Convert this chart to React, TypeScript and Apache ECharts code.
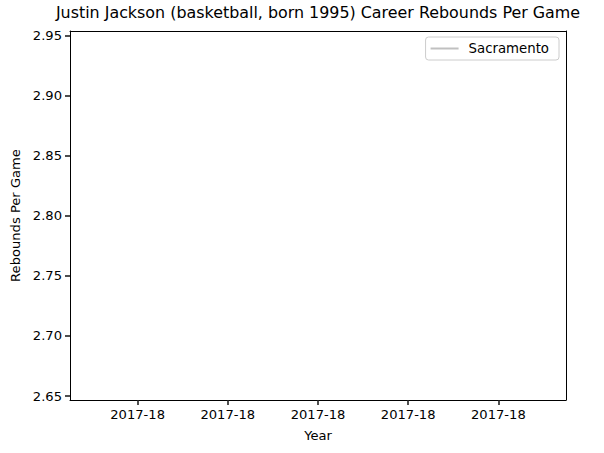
import React, { useEffect, useRef } from "react";
import * as echarts from "echarts";

const categories: string[] = ["2017-18"];
const reboundsPerGame: number[] = [2.8];
const seriesName = "Sacramento";
const xTickPositions: number[] = [-0.04, -0.02, 0, 0.02, 0.04];
const yTickValues: number[] = [2.65, 2.7, 2.75, 2.8, 2.85, 2.9, 2.95];
const titleText = "Justin Jackson (basketball, born 1995) Career Rebounds Per Game";

const FONT = "DejaVu Sans";
const X_MIN = -0.055;
const X_MAX = 0.055;
const Y_MIN = 2.6467;
const Y_MAX = 2.9536;

export default function App() {
  const ref = useRef<HTMLDivElement>(null);
  useEffect(() => {
    if (!ref.current) return;
    const chart = echarts.init(ref.current, null, { renderer: "svg" });
    const data = reboundsPerGame.map((v, i) => [i, v]);
    const spine = () => ({ show: true, onZero: false, lineStyle: { color: "#000", width: 1 } });
    chart.setOption({
      animation: false,
      backgroundColor: "#ffffff",
      textStyle: { fontFamily: FONT },
      graphic: [
        {
          type: "text",
          x: 318,
          y: 4,
          style: {
            text: titleText,
            fontFamily: FONT,
            fontSize: 15.9,
            fill: "#000",
            textAlign: "center",
            textVerticalAlign: "top",
          },
        },
      ],
      grid: {
        left: 70,
        right: 38,
        top: 31,
        bottom: 53,
      },
      legend: {
        data: [seriesName],
        right: 45,
        top: 37,
        padding: [5, 10, 5, 5],
        borderColor: "#cccccc",
        borderWidth: 1,
        borderRadius: 3,
        backgroundColor: "rgba(255,255,255,0.8)",
        icon: "rect",
        itemWidth: 28,
        itemHeight: 2,
        textStyle: { fontFamily: FONT, fontSize: 13.3, color: "#000", padding: [0, 0, 0, 5] },
      },
      xAxis: [
        {
          type: "value",
          position: "bottom",
          min: X_MIN,
          max: X_MAX,
          name: "Year",
          nameLocation: "middle",
          nameGap: 29,
          nameTextStyle: { fontFamily: FONT, fontSize: 13.1, color: "#000" },
          axisLine: spine(),
          splitLine: { show: false },
          axisTick: {
            show: true,
            length: 5,
            customValues: xTickPositions,
            lineStyle: { color: "#222", width: 1.6 },
          },
          axisLabel: {
            customValues: xTickPositions,
            margin: 8,
            fontFamily: FONT,
            fontSize: 13.1,
            color: "#000",
            formatter: () => categories[0],
          },
        },
        {
          type: "value",
          position: "top",
          min: X_MIN,
          max: X_MAX,
          axisLine: spine(),
          splitLine: { show: false },
          axisTick: { show: false },
          axisLabel: { show: false },
        },
      ],
      yAxis: [
        {
          type: "value",
          position: "left",
          min: Y_MIN,
          max: Y_MAX,
          name: "Rebounds Per Game",
          nameLocation: "middle",
          nameGap: 46,
          nameTextStyle: { fontFamily: FONT, fontSize: 13.1, color: "#000" },
          axisLine: spine(),
          splitLine: { show: false },
          axisTick: {
            show: true,
            length: 5,
            customValues: yTickValues,
            lineStyle: { color: "#222", width: 1.6 },
          },
          axisLabel: {
            customValues: yTickValues,
            margin: 8,
            fontFamily: FONT,
            fontSize: 13.1,
            color: "#000",
            formatter: (v: number) => v.toFixed(2),
          },
        },
        {
          type: "value",
          position: "right",
          min: Y_MIN,
          max: Y_MAX,
          axisLine: spine(),
          splitLine: { show: false },
          axisTick: { show: false },
          axisLabel: { show: false },
        },
      ],
      series: [
        {
          name: seriesName,
          type: "line",
          data,
          showSymbol: false,
          symbol: "none",
          lineStyle: { color: "#c0c0c0", width: 2 },
          itemStyle: { color: "#c0c0c0" },
        },
      ],
    });
    return () => chart.dispose();
  }, []);
  return (
    <div
      ref={ref}
      style={{ position: "absolute", left: 0, top: 0, width: 604, height: 453 }}
    />
  );
}
